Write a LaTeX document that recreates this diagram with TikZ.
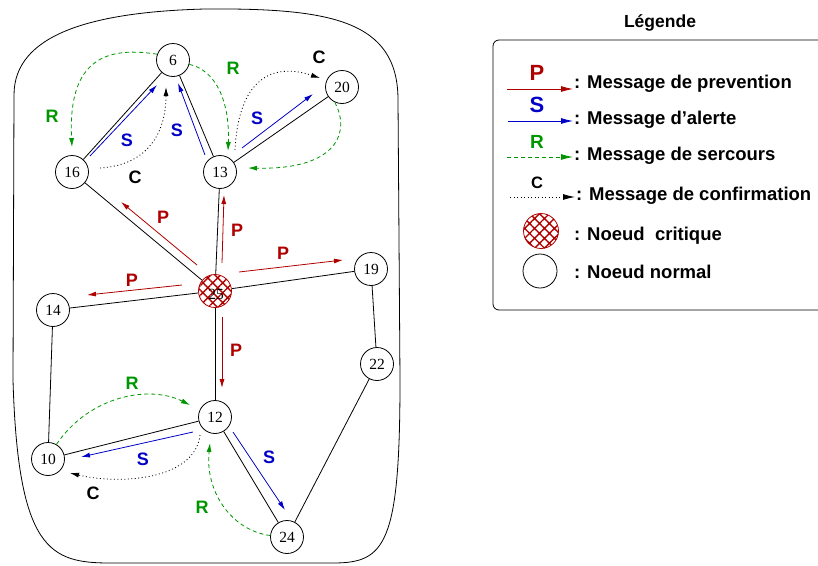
\documentclass[tikz,border=0pt]{standalone}
\usepackage{fontspec}
\setmainfont{Liberation Serif}
\setsansfont{Liberation Sans}
\usetikzlibrary{arrows.meta,patterns.meta,calc}
\definecolor{pred}{RGB}{175,0,0}
\definecolor{sblue}{RGB}{0,0,200}
\definecolor{rgreen}{RGB}{0,150,0}
\tikzset{
 nd/.style={circle,draw,line width=0.8pt,minimum size=33pt,inner sep=0pt,font=\fontsize{15.5}{15.5}\selectfont},
 crit/.style={nd,draw=pred,pattern={Hatch[angle=45,distance=7pt,line width=1.4pt]},pattern color=pred},
 edge/.style={line width=0.8pt},
 tip/.style={-{Latex[length=9pt,width=5pt]}},
 bigtip/.style={-{Latex[length=12pt,width=6pt]}},
 parr/.style={tip,pred,line width=0.8pt},
 sarr/.style={tip,sblue,line width=0.8pt},
 rarr/.style={tip,rgreen,line width=0.8pt,dash pattern=on 4pt off 3pt},
 carr/.style={tip,black,line width=0.8pt,dash pattern=on 1pt off 2.5pt},
 lab/.style={font=\sffamily\bfseries\fontsize{18}{18}\selectfont},
 leg/.style={anchor=base west,inner sep=0pt,font=\sffamily\bfseries\fontsize{18.5}{18.5}\selectfont},
 leglab/.style={anchor=base,inner sep=0pt,font=\sffamily\bfseries\fontsize{22}{22}\selectfont}
}
\begin{document}
\begin{tikzpicture}[x=1pt,y=-1pt]
\useasboundingbox (0,0) rectangle (818,565);
% outer boundary
\draw[line width=0.8pt] (14,95) .. controls (14,35) and (90,12) .. (205,9)
  .. controls (330,8) and (398,20) .. (398,100) -- (400,380)
  .. controls (400,545) and (385,563) .. (333,563) -- (110,563)
  .. controls (50,563) and (18,550) .. (13,380) -- cycle;
% nodes
\node[nd] (n6) at (173,60) {6};
\node[nd] (n20) at (342,87) {20};
\node[nd] (n16) at (72,172) {16};
\node[nd] (n13) at (220,172) {13};
\node[crit] (n25) at (215,291) {};
\node[inner sep=0pt,font=\fontsize{15.5}{15.5}\selectfont] (t25) at (216,294) {25};
\node[nd] (n19) at (371,269) {19};
\node[nd] (n14) at (53,310) {14};
\node[nd] (n22) at (377,364) {22};
\node[nd] (n12) at (215,417) {12};
\node[nd] (n10) at (48,459) {10};
\node[nd] (n24) at (287,537) {24};
% edges
\draw[edge] (n6) -- (n16);
\draw[edge] (n6) -- (n13);
\draw[edge] (n13) -- (n20);
\draw[edge] (n16) -- (n25);
\draw[edge] (n13) -- (n25);
\draw[edge] (n25) -- (n19);
\draw[edge] (n25) -- (n14);
\draw[edge] (n25) -- (n12);
\draw[edge] (n14) -- (n10);
\draw[edge] (n19) -- (n22);
\draw[edge] (n22) -- (n24);
\draw[edge] (n12) -- (n10);
\draw[edge] (n12) -- (n24);
% P arrows
\draw[parr] (197,265) -- (121,202);
\draw[parr] (222,263) -- (224,195);
\draw[parr] (239,272) -- (343,260);
\draw[parr] (182,285) -- (87,295);
\draw[parr] (222,317) -- (222,388);
\node[lab,pred] (p1) at (163,217) {P};
\node[lab,pred] (p2) at (237,230) {P};
\node[lab,pred] (p3) at (283,253) {P};
\node[lab,pred] (p4) at (132,280) {P};
\node[lab,pred] (p5) at (236,350) {P};
% S arrows
\draw[sarr] (90,156) -- (157,85);
\draw[sarr] (205,155) -- (178,83);
\draw[sarr] (242,148) -- (313,94);
\draw[sarr] (193,432) -- (81,457);
\draw[sarr] (233,432) -- (285,510);
\node[lab,sblue] (s1) at (127,140) {S};
\node[lab,sblue] (s2) at (177,130) {S};
\node[lab,sblue] (s3) at (257,118) {S};
\node[lab,sblue] (s4) at (143,459) {S};
\node[lab,sblue] (s5) at (269,457) {S};
% R arrows
\draw[rarr] (n6.160) .. controls (100,45) and (68,65) .. ($(n16.north)+(0,-8)$);
\draw[rarr] (n6.-15) .. controls (215,70) and (230,100) .. (228,151);
\draw[rarr] (n20.-115) .. controls (350,130) and (340,170) .. (248,168);
\draw[rarr] (n10.60) .. controls (90,395) and (150,385) .. (190,405);
\draw[rarr] (n24.175) .. controls (230,530) and (205,490) .. (210,443);
\node[lab,rgreen] (r1) at (52,116) {R};
\node[lab,rgreen] (r2) at (233,68) {R};
\node[lab,rgreen] (r3) at (132,383) {R};
\node[lab,rgreen] (r4) at (202,507) {R};
% C arrows
\draw[carr] (100,168) .. controls (150,165) and (166,130) .. (166,87);
\draw[carr] (235,150) .. controls (238,88) and (265,60) .. (320,78);
\draw[carr] (200,435) .. controls (195,480) and (120,485) .. (70,473);
\node[lab] (c1) at (135,177) {C};
\node[lab] (c2) at (319,57) {C};
\node[lab] (c3) at (93,493) {C};
% legend
\node[anchor=base,inner sep=0pt,font=\sffamily\bfseries\fontsize{17.5}{17.5}\selectfont] (ltitle) at (660,27) {Légende};
\draw[line width=0.8pt,rounded corners=6pt] (493,40) rectangle (830,310);
\draw[bigtip,pred,line width=0.8pt] (507,89) -- (573,89);
\draw[bigtip,sblue,line width=0.8pt] (508,121) -- (573,121);
\draw[bigtip,rgreen,line width=0.8pt,dash pattern=on 4pt off 3pt] (507,157) -- (573,157);
\draw[bigtip,black,line width=0.8pt,dash pattern=on 1pt off 2.5pt] (510,197) -- (575,197);
\node[leglab,pred] (lp) at (537,80) {P};
\node[leglab,sblue] (ls) at (537,112) {S};
\node[leglab,rgreen,font=\sffamily\bfseries\fontsize{19}{19}\selectfont] (lr) at (537,148) {R};
\node[leglab,font=\sffamily\bfseries\fontsize{16.5}{16.5}\selectfont] (lc) at (537,188) {C};
\node[crit,minimum size=35pt] (lcrit) at (541,231) {};
\node[nd,minimum size=34pt] (lnorm) at (540,271) {};
\node[leg] (t1) at (574,88) {: Message de prevention};
\node[leg] (t2) at (574,124) {: Message d’alerte};
\node[leg] (t3) at (574,160) {: Message de sercours};
\node[leg] (t4) at (576,200) {: Message de confirmation};
\node[leg] (t5) at (574,240) {: Noeud\ \ critique};
\node[leg] (t6) at (574,278) {: Noeud normal};
\end{tikzpicture}
\end{document}
